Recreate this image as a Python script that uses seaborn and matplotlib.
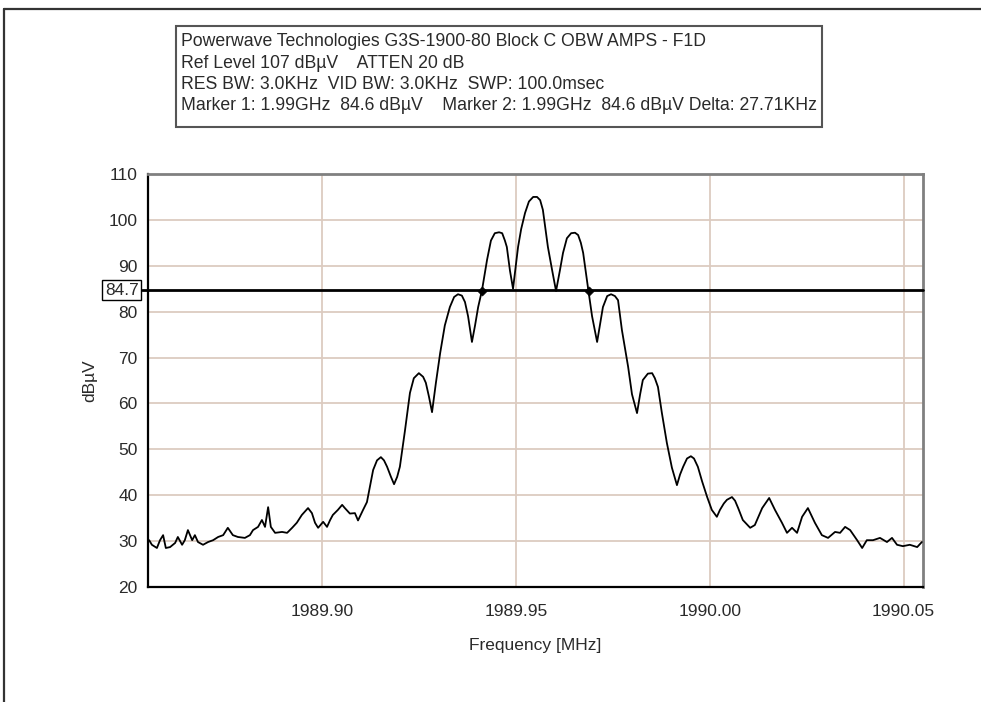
import matplotlib
matplotlib.use("Agg")
import matplotlib.pyplot as plt
from matplotlib.lines import Line2D
from matplotlib.patches import Rectangle
from matplotlib.ticker import FixedLocator
import seaborn as sns
import pandas as pd

# Spectrum trace: frequency (MHz) and level (dBuV)
freq_mhz = [
    1989.8553, 1989.8560, 1989.8573, 1989.8581, 1989.8589, 1989.8596, 1989.8607, 1989.8620,
    1989.8627, 1989.8638, 1989.8645, 1989.8653, 1989.8664, 1989.8671, 1989.8679, 1989.8692,
    1989.8705, 1989.8718, 1989.8731, 1989.8744, 1989.8756, 1989.8769, 1989.8782, 1989.8800,
    1989.8813, 1989.8821, 1989.8834, 1989.8844, 1989.8852, 1989.8860, 1989.8867, 1989.8878,
    1989.8896, 1989.8909, 1989.8922, 1989.8934, 1989.8947, 1989.8963, 1989.8973, 1989.8981,
    1989.8989, 1989.9002, 1989.9012, 1989.9020, 1989.9027, 1989.9040, 1989.9051, 1989.9058,
    1989.9071, 1989.9084, 1989.9092, 1989.9105, 1989.9115, 1989.9123, 1989.9131, 1989.9141,
    1989.9151, 1989.9159, 1989.9167, 1989.9177, 1989.9185, 1989.9193, 1989.9200, 1989.9213,
    1989.9226, 1989.9236, 1989.9249, 1989.9260, 1989.9267, 1989.9275, 1989.9283, 1989.9293,
    1989.9304, 1989.9316, 1989.9329, 1989.9340, 1989.9350, 1989.9360, 1989.9368, 1989.9376,
    1989.9386, 1989.9394, 1989.9402, 1989.9412, 1989.9425, 1989.9435, 1989.9445, 1989.9456,
    1989.9464, 1989.9471, 1989.9476, 1989.9484, 1989.9492, 1989.9505, 1989.9513, 1989.9523,
    1989.9533, 1989.9544, 1989.9554, 1989.9562, 1989.9569, 1989.9582, 1989.9593, 1989.9603,
    1989.9613, 1989.9621, 1989.9631, 1989.9642, 1989.9652, 1989.9660, 1989.9667, 1989.9673,
    1989.9685, 1989.9696, 1989.9709, 1989.9716, 1989.9724, 1989.9735, 1989.9745, 1989.9755,
    1989.9763, 1989.9773, 1989.9789, 1989.9799, 1989.9812, 1989.9820, 1989.9827, 1989.9840,
    1989.9851, 1989.9858, 1989.9866, 1989.9876, 1989.9889, 1989.9902, 1989.9915, 1989.9923,
    1989.9931, 1989.9941, 1989.9951, 1989.9959, 1989.9969, 1989.9980, 1989.9993, 1990.0005,
    1990.0018, 1990.0026, 1990.0036, 1990.0044, 1990.0057, 1990.0065, 1990.0073, 1990.0085,
    1990.0104, 1990.0116, 1990.0135, 1990.0153, 1990.0168, 1990.0186, 1990.0199, 1990.0212,
    1990.0225, 1990.0238, 1990.0253, 1990.0271, 1990.0289, 1990.0305, 1990.0323, 1990.0336,
    1990.0349, 1990.0362, 1990.0380, 1990.0393, 1990.0405, 1990.0421, 1990.0439, 1990.0457,
    1990.0470, 1990.0483, 1990.0498, 1990.0516, 1990.0535, 1990.0547,
]
level_dbuv = [
    30.2, 29.2, 28.5, 30.2, 31.3, 28.5, 28.7, 29.6,
    30.9, 29.2, 30.2, 32.4, 30.2, 31.3, 29.8, 29.2,
    29.8, 30.2, 30.9, 31.3, 32.9, 31.3, 30.9, 30.7,
    31.3, 32.4, 33.1, 34.6, 33.1, 37.4, 33.1, 31.8,
    32.0, 31.8, 32.9, 34.0, 35.7, 37.2, 36.1, 34.0,
    32.9, 34.2, 33.1, 34.6, 35.7, 36.8, 37.9, 37.2,
    36.0, 36.1, 34.5, 36.8, 38.5, 42.0, 45.5, 47.6,
    48.3, 47.6, 46.2, 44.0, 42.4, 44.0, 46.2, 54.0,
    62.3, 65.5, 66.6, 65.8, 64.5, 61.5, 58.1, 64.5,
    71.0, 77.0, 81.0, 83.2, 83.8, 83.5, 82.1, 79.0,
    73.4, 77.0, 81.0, 84.7, 91.3, 95.5, 97.1, 97.3,
    97.1, 95.5, 94.1, 89.0, 85.0, 94.1, 98.0, 101.5,
    104.0, 105.0, 105.0, 104.3, 102.2, 94.1, 89.0, 84.5,
    89.0, 92.8, 96.0, 97.1, 97.2, 96.7, 95.0, 92.8,
    85.5, 79.0, 73.4, 77.0, 81.0, 83.4, 83.8, 83.4,
    82.5, 76.0, 68.0, 62.0, 57.9, 62.0, 65.1, 66.5,
    66.6, 65.5, 63.6, 58.0, 51.4, 46.0, 42.2, 44.5,
    46.2, 48.0, 48.5, 48.0, 46.2, 43.0, 39.6, 36.8,
    35.3, 36.8, 38.2, 39.0, 39.6, 38.8, 37.2, 34.6,
    32.9, 33.5, 37.2, 39.4, 36.8, 34.0, 31.8, 32.9,
    31.8, 35.3, 37.2, 34.0, 31.3, 30.7, 32.0, 31.8,
    33.1, 32.4, 30.2, 28.5, 30.2, 30.2, 30.7, 29.8,
    30.7, 29.2, 28.9, 29.2, 28.7, 29.8,
]

# Reference line and delta markers
ref_line_dbuv = 84.7
marker1_mhz = 1989.9412
marker_level_dbuv = 84.6
delta_khz = 27.71

# Axis setup
x_range = (1989.855, 1990.055)
y_range = (20, 110)
x_major = [1989.90, 1989.95, 1990.00, 1990.05]
x_major_labels = ["1989.90", "1989.95", "1990.00", "1990.05"]
x_minor = [1989.875, 1989.925, 1989.975, 1990.025]
y_major = [20, 30, 40, 50, 60, 70, 80, 90, 100, 110]
y_minor = [25, 35, 45, 55, 65, 75, 85, 95, 105]

header_lines = [
    "Powerwave Technologies G3S-1900-80 Block C OBW AMPS - F1D",
    "Ref Level 107 dB\u00b5V    ATTEN 20 dB",
    "RES BW: 3.0KHz  VID BW: 3.0KHz  SWP: 100.0msec",
    "Marker 1: 1.99GHz  84.6 dB\u00b5V    Marker 2: 1.99GHz  84.6 dB\u00b5V Delta: 27.71KHz",
]

sns.set_style("white")
plt.rcParams["font.family"] = ["Liberation Sans", "DejaVu Sans"]
text_color = "#2a2a2a"
fs = 12.5
fs_header = 12.7

fig = plt.figure(figsize=(9.81, 7.02), dpi=100)
ax = fig.add_axes([148 / 981, 1 - 587 / 702, 775 / 981, 413 / 702])

trace = pd.DataFrame({"freq": freq_mhz, "level": level_dbuv})
sns.lineplot(data=trace, x="freq", y="level", color="black", linewidth=1.3,
             estimator=None, ax=ax, zorder=3)

markers = pd.DataFrame({
    "freq": [marker1_mhz, marker1_mhz + delta_khz / 1000.0],
    "level": [marker_level_dbuv, marker_level_dbuv],
})
sns.scatterplot(data=markers, x="freq", y="level", marker="D", s=22,
                color="black", edgecolor="black", ax=ax, zorder=5)

# Reference level line running out to its value box
ax.axhline(ref_line_dbuv, xmin=-0.008, xmax=1.0, color="black", lw=2.0,
           clip_on=False, zorder=4)
ax.text(-0.034, ref_line_dbuv, f"{ref_line_dbuv:.1f}", transform=ax.get_yaxis_transform(),
        ha="center", va="center", fontsize=fs, color=text_color, clip_on=False,
        bbox=dict(boxstyle="square,pad=0.15", fc="white", ec="black", lw=1.0))

ax.set_xlim(*x_range)
ax.set_ylim(*y_range)
ax.xaxis.set_major_locator(FixedLocator(x_major))
ax.xaxis.set_minor_locator(FixedLocator(x_minor))
ax.set_xticklabels(x_major_labels)
ax.yaxis.set_major_locator(FixedLocator(y_major))
ax.yaxis.set_minor_locator(FixedLocator(y_minor))
ax.set_yticklabels([str(v) for v in y_major])

ax.grid(True, which="major", color="#dccbc0", lw=1.3)
ax.set_axisbelow(True)

ax.tick_params(which="both", direction="inout", length=7, width=1.3, color="black",
               labelsize=fs, labelcolor=text_color)
ax.tick_params(axis="x", which="both", pad=9)
ax.tick_params(axis="y", which="both", pad=4)

for side in ("left", "bottom"):
    ax.spines[side].set_color("black")
    ax.spines[side].set_linewidth(1.6)
for side in ("top", "right"):
    ax.spines[side].set_color("#808080")
    ax.spines[side].set_linewidth(2.0)

ax.set_xlabel("Frequency [MHz]", fontsize=fs, color=text_color)
ax.set_ylabel("dB\u00b5V", fontsize=fs, color=text_color)
ax.xaxis.set_label_coords(0.5, -0.124)
ax.yaxis.set_label_coords(-0.066, 0.5)

# Header box with instrument settings
fig.add_artist(Rectangle((176 / 981, 1 - 127 / 702), 646 / 981, 101 / 702,
                         transform=fig.transFigure, fill=False, ec="#555555", lw=1.5))
for i, line in enumerate(header_lines):
    fig.text(181 / 981, 1 - (42 + 21.3 * i) / 702, line, ha="left", va="center",
             fontsize=fs_header, color=text_color)

# Page frame
fig.add_artist(Line2D([4 / 981, 1.0], [1 - 9 / 702, 1 - 9 / 702], transform=fig.transFigure,
                      color="#333333", lw=1.6))
fig.add_artist(Line2D([4 / 981, 4 / 981], [0.0, 1 - 9 / 702], transform=fig.transFigure,
                      color="#333333", lw=1.6))

fig.savefig("out.png", dpi=100)
